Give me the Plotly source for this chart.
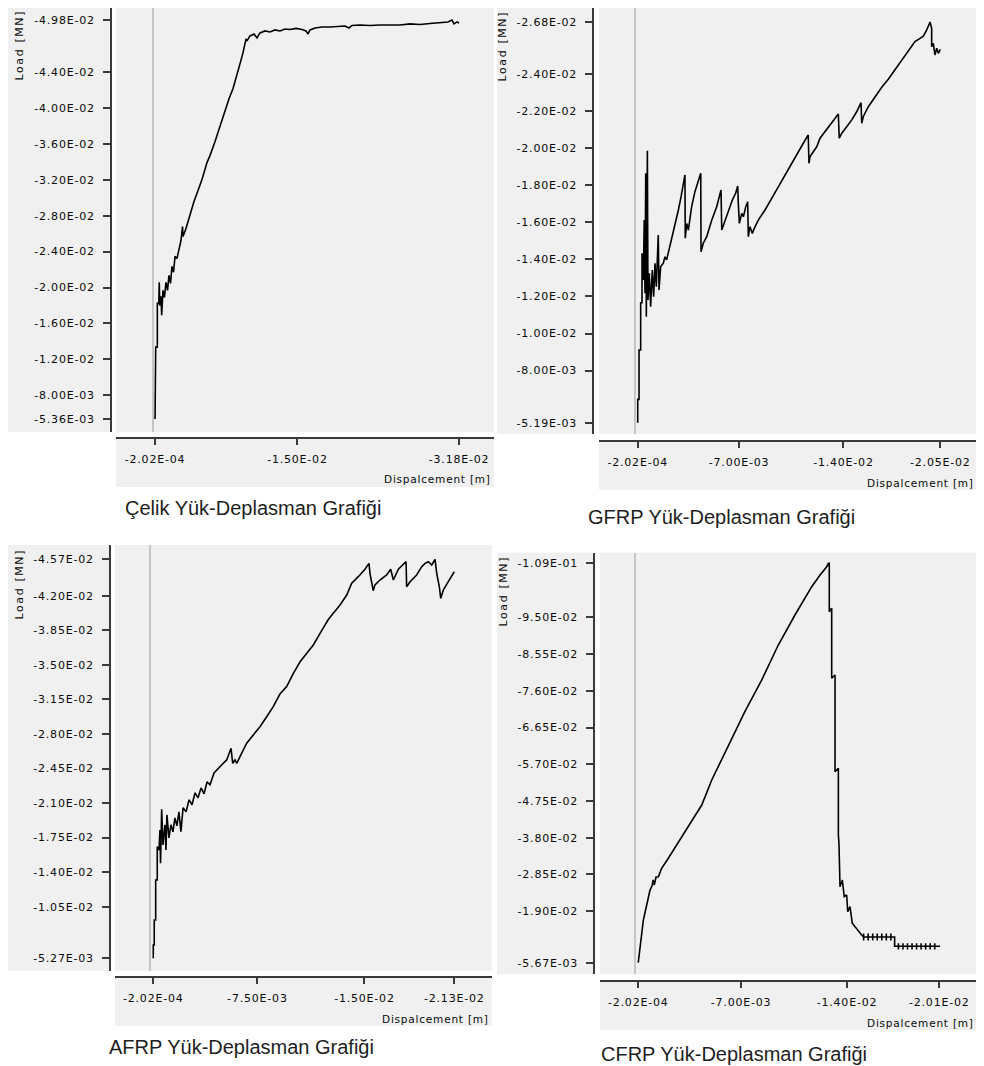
import plotly.graph_objects as go

# The page body has an 8px margin, so the figure is drawn 8px in from the top-left.
PAGE_W, PAGE_H, OFF = 984, 1066, 8
W, H = PAGE_W - OFF, PAGE_H - OFF

# ---------------- data: displacement [m], load [MN] ----------------
celik_disp = [-0.000202, -0.000202, -0.00027, -0.00027, -0.00044, -0.00044, -0.00059, -0.00064, -0.00069, -0.00082,
              -0.00089, -0.00103, -0.00118, -0.00134, -0.0015, -0.00165, -0.00181, -0.00196, -0.00212, -0.00228,
              -0.00248, -0.00269, -0.0029, -0.00306, -0.00311, -0.00342, -0.00384, -0.00425, -0.00467, -0.00508,
              -0.0056, -0.00591, -0.00643, -0.00685, -0.00737, -0.00789, -0.0083, -0.00872, -0.00903, -0.00934,
              -0.00966, -0.00976, -0.01007, -0.01049, -0.0108, -0.01111, -0.01163, -0.01215, -0.01267, -0.01319,
              -0.01371, -0.01423, -0.01486, -0.01548, -0.01589, -0.0161, -0.01631, -0.01683, -0.01756, -0.01839,
              -0.01922, -0.01995, -0.02036, -0.02067, -0.0215, -0.02254, -0.02358, -0.02462, -0.02566, -0.0267,
              -0.02774, -0.02878, -0.02982, -0.03065, -0.03107, -0.03127, -0.03159, -0.0318]
celik_load = [-0.00536, -0.00824, -0.00824, -0.01336, -0.01336, -0.01824, -0.01824, -0.02058, -0.0180, -0.01902,
              -0.01691, -0.01969, -0.01891, -0.02058, -0.01969, -0.02136, -0.02047, -0.02236, -0.0217, -0.02347,
              -0.02324, -0.02447, -0.02524, -0.0268, -0.02569, -0.02658, -0.02813, -0.02958, -0.0308, -0.03202,
              -0.03391, -0.03469, -0.03624, -0.03769, -0.03947, -0.04102, -0.04213, -0.04358, -0.04491, -0.04613,
              -0.04769, -0.04747, -0.04802, -0.04824, -0.0478, -0.04836, -0.04858, -0.04847, -0.04869, -0.04858,
              -0.0488, -0.04874, -0.04886, -0.04874, -0.04858, -0.04824, -0.04869, -0.04891, -0.04902, -0.04902,
              -0.04908, -0.04913, -0.04891, -0.04919, -0.04924, -0.04919, -0.04924, -0.04924, -0.04924, -0.04936,
              -0.0493, -0.04941, -0.04947, -0.04958, -0.0498, -0.04936, -0.04958, -0.04947]

gfrp_disp = [-0.000202, -0.000202, -0.00029, -0.00029, -0.0004, -0.0004, -0.00049, -0.00049, -0.00058, -0.00064,
             -0.00069, -0.00074, -0.00078, -0.00085, -0.00089, -0.00098, -0.00107, -0.00118, -0.00127, -0.00136,
             -0.00145, -0.00158, -0.00163, -0.00174, -0.00192, -0.00203, -0.00214, -0.00225, -0.00248, -0.0027,
             -0.00293, -0.00311, -0.00326, -0.00337, -0.00339, -0.00349, -0.0036, -0.00382, -0.00404, -0.00427,
             -0.00443, -0.00445, -0.0046, -0.00483, -0.00517, -0.0055, -0.00572, -0.00579, -0.00584, -0.00606,
             -0.00628, -0.00655, -0.00677, -0.00691, -0.00695, -0.00702, -0.00718, -0.00729, -0.00745, -0.00758,
             -0.00762, -0.00773, -0.00789, -0.00802, -0.00829, -0.00874, -0.00919, -0.00963, -0.01008, -0.01053,
             -0.01097, -0.01131, -0.01164, -0.01169, -0.01176, -0.01198, -0.01221, -0.01243, -0.01277, -0.0131,
             -0.01344, -0.01366, -0.01372, -0.01389, -0.01422, -0.01456, -0.01489, -0.01518, -0.01523, -0.01533,
             -0.01567, -0.01612, -0.01657, -0.01701, -0.01746, -0.01791, -0.01835, -0.0188, -0.01914, -0.01936,
             -0.01959, -0.01981, -0.01992, -0.01992, -0.02003, -0.02014, -0.02026, -0.02037, -0.0205]
gfrp_load = [-0.00519, -0.00645, -0.00645, -0.00911, -0.00911, -0.01166, -0.01166, -0.01433, -0.01289, -0.01612,
             -0.01217, -0.01864, -0.01091, -0.01986, -0.01181, -0.01325, -0.01145, -0.01343, -0.01199, -0.01379,
             -0.01253, -0.01531, -0.01235, -0.0136, -0.01379, -0.01414, -0.01397, -0.01433, -0.01504, -0.01576,
             -0.01666, -0.01738, -0.01801, -0.01855, -0.01514, -0.01594, -0.01558, -0.01684, -0.01765, -0.01828,
             -0.01864, -0.01441, -0.01487, -0.01522, -0.01612, -0.01684, -0.01756, -0.01774, -0.01558, -0.01612,
             -0.01666, -0.0172, -0.01756, -0.01796, -0.01702, -0.01594, -0.01648, -0.0163, -0.01684, -0.01711,
             -0.01522, -0.01576, -0.0154, -0.01567, -0.01612, -0.01666, -0.01729, -0.01792, -0.01849, -0.01918,
             -0.01981, -0.02026, -0.02071, -0.01918, -0.01954, -0.01981, -0.02007, -0.02053, -0.02088, -0.02125,
             -0.02161, -0.02184, -0.02053, -0.0208, -0.02115, -0.02152, -0.02196, -0.02245, -0.02134, -0.02169,
             -0.02223, -0.02277, -0.02328, -0.02371, -0.02421, -0.02475, -0.0252, -0.02574, -0.02592, -0.02604,
             -0.02637, -0.0268, -0.02646, -0.02547, -0.02565, -0.02502, -0.02538, -0.02511, -0.02533]

afrp_disp = [-0.000202, -0.000202, -0.00027, -0.00027, -0.00037, -0.00037, -0.00048, -0.00048, -0.0006, -0.00067,
             -0.00071, -0.00079, -0.00088, -0.00102, -0.00109, -0.00116, -0.0013, -0.00144, -0.00158, -0.00172,
             -0.00186, -0.002, -0.00214, -0.00229, -0.0025, -0.00271, -0.00292, -0.00313, -0.00334, -0.00355,
             -0.00376, -0.00397, -0.00418, -0.00446, -0.00511, -0.00535, -0.00565, -0.00577, -0.00593, -0.00605,
             -0.00628, -0.00675, -0.00721, -0.00768, -0.00815, -0.00861, -0.00908, -0.00955, -0.01002, -0.01049,
             -0.01096, -0.01142, -0.01189, -0.01247, -0.01282, -0.01329, -0.01376, -0.01411, -0.01457, -0.01504,
             -0.01532, -0.01539, -0.01562, -0.01574, -0.01609, -0.01656, -0.01684, -0.01703, -0.01738, -0.01778,
             -0.01792, -0.01796, -0.0182, -0.01866, -0.01902, -0.01925, -0.01948, -0.01972, -0.01995, -0.02007,
             -0.02025, -0.02035, -0.02053, -0.02088, -0.02112, -0.0213]
afrp_load = [-0.00527, -0.00662, -0.00662, -0.00915, -0.00915, -0.0132, -0.0132, -0.01658, -0.01624, -0.01827,
             -0.0149, -0.02037, -0.01676, -0.0188, -0.01624, -0.0198, -0.01747, -0.0188, -0.01809, -0.0195,
             -0.01869, -0.02011, -0.0181, -0.02052, -0.02011, -0.02133, -0.02083, -0.02204, -0.02153, -0.02254,
             -0.02194, -0.02315, -0.02285, -0.02405, -0.02503, -0.02537, -0.02655, -0.02503, -0.02537, -0.02503,
             -0.0257, -0.02706, -0.0279, -0.02874, -0.02975, -0.03077, -0.03205, -0.0328, -0.03415, -0.03532,
             -0.03618, -0.03702, -0.0382, -0.0396, -0.04023, -0.04107, -0.04208, -0.04327, -0.04394, -0.04469,
             -0.04529, -0.04428, -0.04252, -0.0431, -0.0436, -0.04411, -0.04469, -0.0436, -0.04469, -0.04529,
             -0.04546, -0.04292, -0.04343, -0.04411, -0.04495, -0.04529, -0.04546, -0.04512, -0.0457, -0.04428,
             -0.04292, -0.04175, -0.04259, -0.04343, -0.04394, -0.04444]

cfrp_disp = [-0.000202, -0.00032, -0.00054, -0.00076, -0.00098, -0.00111, -0.00118, -0.00126, -0.00138, -0.00153,
             -0.00175, -0.00219, -0.00274, -0.00351, -0.0044, -0.00506, -0.00615, -0.00725, -0.00836, -0.00946,
             -0.01056, -0.01167, -0.01222, -0.01266, -0.01277, -0.01283, -0.01283, -0.01299, -0.01299, -0.01321,
             -0.01321, -0.01343, -0.01343, -0.01347, -0.01354, -0.01369, -0.01382, -0.01398, -0.01405, -0.0142,
             -0.01435, -0.01453, -0.01475, -0.01497,
             -0.0151, -0.0151, -0.0151, -0.0151, -0.0154, -0.0154, -0.0154, -0.0154,
             -0.0157, -0.0157, -0.0157, -0.0157, -0.016, -0.016, -0.016, -0.016,
             -0.0163, -0.0163, -0.0163, -0.0163, -0.0166, -0.0166, -0.0166, -0.0166,
             -0.0169, -0.0169, -0.0169, -0.0169, -0.01715, -0.01715,
             -0.0174, -0.0174, -0.0174, -0.0174, -0.0177, -0.0177, -0.0177, -0.0177,
             -0.018, -0.018, -0.018, -0.018, -0.0183, -0.0183, -0.0183, -0.0183,
             -0.0186, -0.0186, -0.0186, -0.0186, -0.0189, -0.0189, -0.0189, -0.0189,
             -0.0192, -0.0192, -0.0192, -0.0192, -0.0195, -0.0195, -0.0195, -0.0195,
             -0.0198, -0.0198, -0.0198, -0.0198, -0.0201, -0.0201]
cfrp_load = [-0.00567, -0.0098, -0.01671, -0.02059, -0.02447, -0.0255, -0.02706, -0.02577, -0.02784, -0.02791,
             -0.03009, -0.03268, -0.03612, -0.04085, -0.04646, -0.05293, -0.06155, -0.0706, -0.0788, -0.08786,
             -0.09562, -0.10295, -0.10597, -0.10812, -0.109, -0.109, -0.09648, -0.09736, -0.07925, -0.0801,
             -0.05508, -0.05596, -0.0387, -0.03663, -0.02533, -0.02706, -0.02274, -0.02318, -0.01886, -0.02015,
             -0.01586, -0.01498, -0.01368, -0.01283,
             -0.0123, -0.0132, -0.0114, -0.0123, -0.0123, -0.0132, -0.0114, -0.0123,
             -0.0123, -0.0132, -0.0114, -0.0123, -0.0123, -0.0132, -0.0114, -0.0123,
             -0.0123, -0.0132, -0.0114, -0.0123, -0.0123, -0.0132, -0.0114, -0.0123,
             -0.0123, -0.0132, -0.0114, -0.0123, -0.0123, -0.0099,
             -0.0099, -0.0107, -0.0091, -0.0099, -0.0099, -0.0107, -0.0091, -0.0099,
             -0.0099, -0.0107, -0.0091, -0.0099, -0.0099, -0.0107, -0.0091, -0.0099,
             -0.0099, -0.0107, -0.0091, -0.0099, -0.0099, -0.0107, -0.0091, -0.0099,
             -0.0099, -0.0107, -0.0091, -0.0099, -0.0099, -0.0107, -0.0091, -0.0099,
             -0.0099, -0.0107, -0.0091, -0.0099, -0.0099, -0.0101]

# tick values
celik_xticks = [-0.000202, -0.015, -0.0318]
celik_yticks = [-0.0498, -0.044, -0.040, -0.036, -0.032, -0.028, -0.024, -0.020, -0.016, -0.012, -0.008, -0.00536]
gfrp_xticks = [-0.000202, -0.007, -0.014, -0.0205]
gfrp_yticks = [-0.0268, -0.024, -0.022, -0.020, -0.018, -0.016, -0.014, -0.012, -0.010, -0.008, -0.00519]
afrp_xticks = [-0.000202, -0.0075, -0.015, -0.0213]
afrp_yticks = [-0.0457, -0.042, -0.0385, -0.035, -0.0315, -0.028, -0.0245, -0.021, -0.0175, -0.014, -0.0105, -0.00527]
cfrp_xticks = [-0.000202, -0.007, -0.014, -0.0201]
cfrp_yticks = [-0.109, -0.095, -0.0855, -0.076, -0.0665, -0.057, -0.0475, -0.038, -0.0285, -0.019, -0.00567]

titles = ["Çelik Yük-Deplasman Grafiği", "GFRP Yük-Deplasman Grafiği",
          "AFRP Yük-Deplasman Grafiği", "CFRP Yük-Deplasman Grafiği"]
x_label = "Dispalcement [m]"
y_label = "Load [MN]"

series = [(celik_disp, celik_load, celik_xticks, celik_yticks),
          (gfrp_disp, gfrp_load, gfrp_xticks, gfrp_yticks),
          (afrp_disp, afrp_load, afrp_xticks, afrp_yticks),
          (cfrp_disp, cfrp_load, cfrp_xticks, cfrp_yticks)]

# ---------------- layout (page-pixel geometry of each panel) ----------------
panels = [
    dict(plot=(116, 494, 8, 432), yline=111, xline=437.7, lab_x0=8, xpan_bottom=487,
         xr=[0.003856, -0.035433], yr=[-0.003911, -0.051133],
         load_pos=(19, 8), disp_pos=(493, 479), title_pos=(123, 508)),
    dict(plot=(599, 976, 8, 434), yline=593.3, xline=441, lab_x0=497, xpan_bottom=490,
         xr=[0.002395, -0.022894], yr=[-0.004581, -0.027555],
         load_pos=(502, 9), disp_pos=(976, 482.7), title_pos=(586, 516.7)),
    dict(plot=(115, 491.7, 545, 970.7), yline=110, xline=976.7, lab_x0=8, xpan_bottom=1026,
         xr=[0.002481, -0.023922], yr=[-0.004014, -0.047149],
         load_pos=(19, 547), disp_pos=(490.7, 1018.7), title_pos=(107, 1046.7)),
    dict(plot=(600, 976, 552.7, 974.3), yline=594.3, xline=981, lab_x0=497, xpan_bottom=1030,
         xr=[0.002327, -0.022529], yr=[-0.00266, -0.111743],
         load_pos=(503, 554), disp_pos=(976, 1023.3), title_pos=(599, 1054)),
]

BG = "#eff0ef"
AX = "#3a3a3a"
TXT = "#0a0a0a"
TICKFONT = dict(family="DejaVu Sans", size=11, color=TXT)
LS = "letter-spacing:0.8px"


def clamp(v):
    return min(1.0, max(0.0, v))


def px(x):
    return clamp((x - OFF) / W)


def py(y):
    return clamp(1 - (y - OFF) / H)


def spaced(t, s=LS):
    return f'<span style="{s}">{t}</span>'


fig = go.Figure()
shapes = []
annotations = []
layout_axes = {}

for i, (p, (xd, yd, xt, yt)) in enumerate(zip(panels, series)):
    n = "" if i == 0 else str(i + 1)
    fig.add_trace(go.Scatter(x=xd, y=yd, mode="lines", xaxis="x" + n, yaxis="y" + n,
                             line=dict(color="#000000", width=1.6), showlegend=False,
                             hoverinfo="skip"))
    x0, x1, y0, y1 = p["plot"]
    layout_axes["xaxis" + n] = dict(
        domain=[px(x0), px(x1)], anchor="free", position=py(p["xline"]),
        range=p["xr"], tickmode="array", tickvals=xt,
        ticktext=[spaced(f"{v:.2E}") for v in xt],
        ticks="outside", ticklen=6, tickwidth=1.5, tickcolor=AX,
        showline=True, linecolor=AX, linewidth=2, showgrid=False,
        zeroline=True, zerolinecolor="#c6c6c6", zerolinewidth=1.5,
        tickfont=TICKFONT, ticklabelstandoff=5, fixedrange=True)
    layout_axes["yaxis" + n] = dict(
        domain=[py(y1), py(y0)], anchor="free", position=px(p["yline"]),
        range=p["yr"], tickmode="array", tickvals=yt,
        ticktext=[spaced(f"{v:.2E}") for v in yt],
        ticks="outside", ticklen=7, tickwidth=1.5, tickcolor=AX,
        showline=True, linecolor=AX, linewidth=2, showgrid=False, zeroline=False,
        tickfont=TICKFONT, ticklabelstandoff=6, fixedrange=True)

    # gray panel behind y tick labels
    shapes.append(dict(type="rect", xref="paper", yref="paper", layer="below",
                       x0=px(p["lab_x0"]), x1=px(p["yline"] - 1), y0=py(y1), y1=py(y0),
                       fillcolor=BG, line=dict(width=0)))
    # gray panel behind x tick labels
    shapes.append(dict(type="rect", xref="paper", yref="paper", layer="below",
                       x0=px(x0), x1=px(x1), y0=py(p["xpan_bottom"]), y1=py(p["xline"]),
                       fillcolor=BG, line=dict(width=0)))

    lx, ly = p["load_pos"]
    annotations.append(dict(text=spaced(y_label, "letter-spacing:1.6px"), xref="paper", yref="paper",
                            x=px(lx), y=py(ly),
                            xanchor="center", yanchor="top", textangle=-90, showarrow=False,
                            font=dict(family="DejaVu Sans", size=11, color=TXT)))
    dx, dy = p["disp_pos"]
    annotations.append(dict(text=spaced(x_label), xref="paper", yref="paper", x=px(dx), y=py(dy),
                            xanchor="right", yanchor="middle", showarrow=False,
                            font=dict(family="DejaVu Sans", size=10.5, color=TXT)))
    tx, ty = p["title_pos"]
    annotations.append(dict(text=titles[i], xref="paper", yref="paper", x=px(tx), y=py(ty),
                            xanchor="left", yanchor="middle", showarrow=False,
                            font=dict(family="Liberation Sans", size=20, color="#1e1e1e")))

fig.update_layout(width=W, height=H, autosize=False,
                  margin=dict(l=0, r=0, t=0, b=0, pad=0),
                  paper_bgcolor="#ffffff", plot_bgcolor=BG,
                  shapes=shapes, annotations=annotations, **layout_axes)

fig.write_html("out.html")
